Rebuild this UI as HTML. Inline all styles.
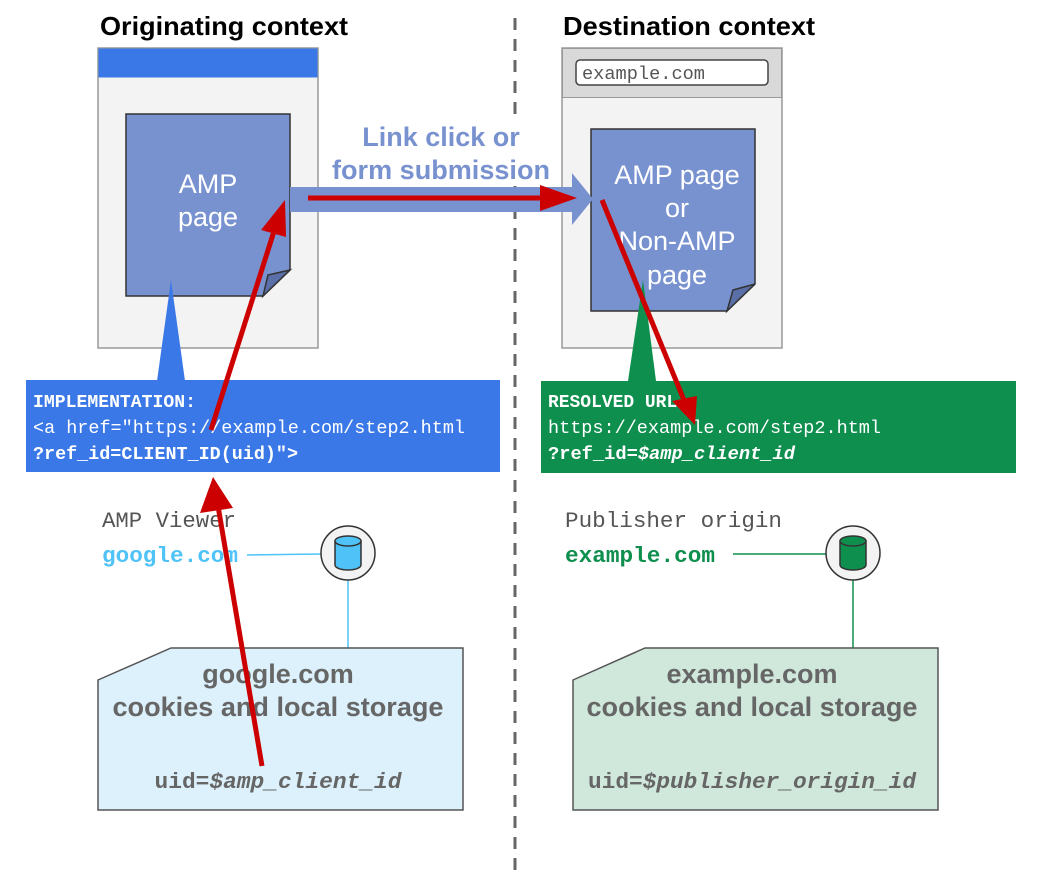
<!DOCTYPE html>
<html><head><meta charset="utf-8"><style>html,body{margin:0;padding:0;background:#fff}svg{display:block}</style></head>
<body>
<svg width="1038" height="890" viewBox="0 0 1038 890" xmlns="http://www.w3.org/2000/svg">
<line x1="515" y1="18" x2="515" y2="872" stroke="#666" stroke-width="3" stroke-dasharray="12,9"/>
<text x="100" y="35" font-family="Liberation Sans" font-weight="bold" font-size="26" fill="#000" textLength="248" lengthAdjust="spacingAndGlyphs">Originating context</text>
<text x="563" y="35" font-family="Liberation Sans" font-weight="bold" font-size="26" fill="#000" textLength="252" lengthAdjust="spacingAndGlyphs">Destination context</text>
<!-- left browser -->
<rect x="98" y="48" width="220" height="300" fill="#f3f3f3" stroke="#999" stroke-width="1.5"/>
<rect x="98.5" y="48.5" width="219" height="29" fill="#3b78e7"/>
<polygon points="126,114 290,114 290,270 263,296 126,296" fill="#7891cf" stroke="#333" stroke-width="1.5"/>
<polygon points="290,270 268,275 263,296" fill="#5a6ea8" stroke="#333" stroke-width="1.5"/>
<text x="208" y="193" text-anchor="middle" font-family="Liberation Sans" font-size="27" fill="#fff">AMP</text>
<text x="208" y="226" text-anchor="middle" font-family="Liberation Sans" font-size="27" fill="#fff">page</text>
<polygon points="171,280 157,381 185,381" fill="#3b78e7"/>
<!-- right browser -->
<rect x="562" y="48" width="220" height="300" fill="#f3f3f3" stroke="#999" stroke-width="1.5"/>
<rect x="562.5" y="48.5" width="219" height="49" fill="#d9d9d9" stroke="#999" stroke-width="1"/>
<rect x="576" y="60" width="192" height="25" rx="4" fill="#fff" stroke="#444" stroke-width="1.5"/>
<text x="582" y="79" font-family="Liberation Mono" font-size="18" fill="#555" textLength="123" lengthAdjust="spacingAndGlyphs">example.com</text>
<polygon points="591,129 755,129 755,284 727,311 591,311" fill="#7891cf" stroke="#333" stroke-width="1.5"/>
<polygon points="755,284 733,290 727,311" fill="#5a6ea8" stroke="#333" stroke-width="1.5"/>
<g font-family="Liberation Sans" font-size="27" fill="#fff" text-anchor="middle">
<text x="677" y="184">AMP page</text><text x="677" y="217">or</text><text x="677" y="250">Non-AMP</text><text x="677" y="284">page</text></g>
<polygon points="643,280 628,381 656,381" fill="#0f8f4e"/>
<!-- link arrow -->
<rect x="332" y="122" width="220" height="64" fill="#fff"/>
<text x="441" y="146" text-anchor="middle" font-family="Liberation Sans" font-weight="bold" font-size="27" fill="#7891cf">Link click or</text>
<text x="441" y="179" text-anchor="middle" font-family="Liberation Sans" font-weight="bold" font-size="27" fill="#7891cf" textLength="218" lengthAdjust="spacingAndGlyphs">form submission</text>
<polygon points="290,187 572,187 572,173 593,199 572,225 572,212 290,212" fill="#7891cf"/>
<line x1="308" y1="198" x2="545" y2="198" stroke="#cc0000" stroke-width="5"/>
<polygon points="540,185 577,198 540,211" fill="#cc0000"/>
<!-- boxes -->
<rect x="26" y="380" width="474" height="92" fill="#3b78e7"/>
<g font-family="Liberation Mono" font-size="18" fill="#fff">
<text x="33" y="407" font-weight="bold" font-size="18" textLength="163" lengthAdjust="spacingAndGlyphs">IMPLEMENTATION:</text>
<text x="33" y="433" textLength="432" lengthAdjust="spacingAndGlyphs">&lt;a href="https://example.com/step2.html</text>
<text x="33" y="459" font-weight="bold" textLength="265" lengthAdjust="spacingAndGlyphs">?ref_id=CLIENT_ID(uid)"&gt;</text></g>
<rect x="541" y="381" width="475" height="92" fill="#0f8f4e"/>
<g font-family="Liberation Mono" font-size="18" fill="#fff">
<text x="548" y="407" font-weight="bold" font-size="18" textLength="140" lengthAdjust="spacingAndGlyphs">RESOLVED URL:</text>
<text x="548" y="433" textLength="333" lengthAdjust="spacingAndGlyphs">https://example.com/step2.html</text>
<text x="548" y="459" font-weight="bold" textLength="247" lengthAdjust="spacingAndGlyphs">?ref_id=<tspan font-style="italic">$amp_client_id</tspan></text></g>
<!-- bottom left -->
<text x="102" y="527" font-family="Liberation Mono" font-size="22" fill="#555" textLength="134" lengthAdjust="spacingAndGlyphs">AMP Viewer</text>
<text x="102" y="562" font-family="Liberation Mono" font-weight="bold" font-size="22" fill="#4fc3f7" textLength="136" lengthAdjust="spacingAndGlyphs">google.com</text>
<line x1="247" y1="555" x2="321" y2="554" stroke="#4fc3f7" stroke-width="1.5"/>
<line x1="348" y1="580" x2="348" y2="648" stroke="#4fc3f7" stroke-width="1.5"/>
<circle cx="348" cy="553" r="27" fill="#f3f3f3" stroke="#333" stroke-width="1.5"/>
<path d="M335,541 v24 a13,5 0 0 0 26,0 v-24" fill="#4fc3f7" stroke="#333" stroke-width="1.5"/>
<ellipse cx="348" cy="541" rx="13" ry="5" fill="#4fc3f7" stroke="#333" stroke-width="1.5"/>
<polygon points="98,680 171,648 463,648 463,810 98,810" fill="#dcf1fb" stroke="#555" stroke-width="1.5"/>
<g font-family="Liberation Sans" font-weight="bold" font-size="27" fill="#666" text-anchor="middle">
<text x="278" y="683">google.com</text><text x="278" y="716" textLength="331" lengthAdjust="spacingAndGlyphs">cookies and local storage</text></g>
<text x="278" y="788" text-anchor="middle" font-family="Liberation Mono" font-weight="bold" font-size="22" fill="#666" textLength="247" lengthAdjust="spacingAndGlyphs">uid=<tspan font-style="italic">$amp_client_id</tspan></text>
<!-- bottom right -->
<text x="565" y="527" font-family="Liberation Mono" font-size="22" fill="#555" textLength="217" lengthAdjust="spacingAndGlyphs">Publisher origin</text>
<text x="565" y="562" font-family="Liberation Mono" font-weight="bold" font-size="22" fill="#0f8f4e" textLength="150" lengthAdjust="spacingAndGlyphs">example.com</text>
<line x1="733" y1="554" x2="826" y2="554" stroke="#0f8f4e" stroke-width="1.5"/>
<line x1="853" y1="580" x2="853" y2="648" stroke="#0f8f4e" stroke-width="1.5"/>
<circle cx="853" cy="553" r="27" fill="#f3f3f3" stroke="#333" stroke-width="1.5"/>
<path d="M840,541 v24 a13,5 0 0 0 26,0 v-24" fill="#0f8f4e" stroke="#333" stroke-width="1.5"/>
<ellipse cx="853" cy="541" rx="13" ry="5" fill="#0f8f4e" stroke="#333" stroke-width="1.5"/>
<polygon points="573,680 645,648 938,648 938,810 573,810" fill="#d0e8dc" stroke="#555" stroke-width="1.5"/>
<g font-family="Liberation Sans" font-weight="bold" font-size="27" fill="#666" text-anchor="middle">
<text x="752" y="683">example.com</text><text x="752" y="716" textLength="331" lengthAdjust="spacingAndGlyphs">cookies and local storage</text></g>
<text x="752" y="788" text-anchor="middle" font-family="Liberation Mono" font-weight="bold" font-size="22" fill="#666" textLength="328" lengthAdjust="spacingAndGlyphs">uid=<tspan font-style="italic">$publisher_origin_id</tspan></text>
<!-- red arrows -->
<line x1="262" y1="766" x2="217" y2="500" stroke="#cc0000" stroke-width="5"/>
<polygon points="213,477 200,513 233,508" fill="#cc0000"/>
<line x1="211" y1="430" x2="276" y2="225" stroke="#cc0000" stroke-width="5"/>
<polygon points="285,200 261,230 286,237" fill="#cc0000"/>
<line x1="602" y1="200" x2="686" y2="405" stroke="#cc0000" stroke-width="5"/>
<polygon points="695,425 672,401 697,396" fill="#cc0000"/>
</svg>
</body></html>
